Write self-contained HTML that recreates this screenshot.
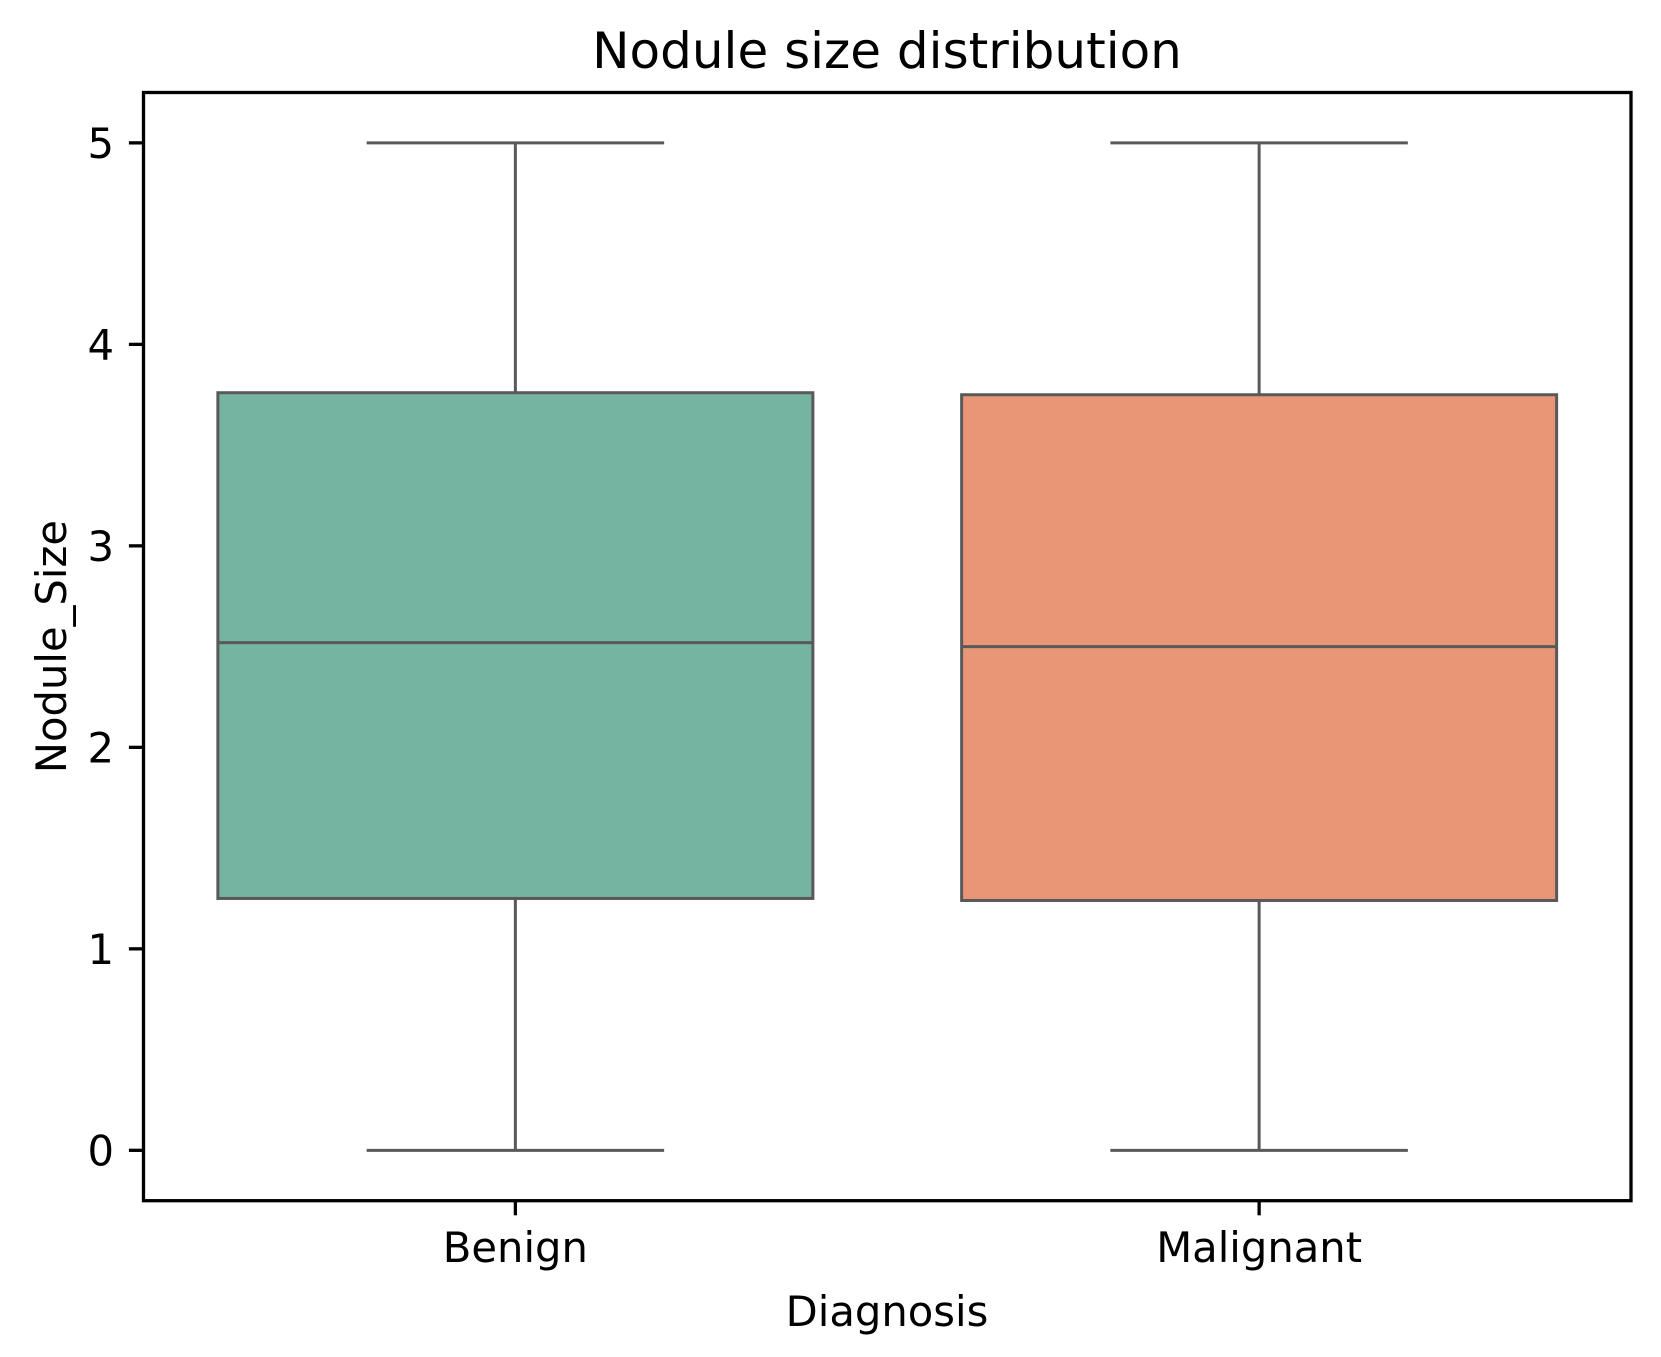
<!DOCTYPE html>
<html><head><meta charset="utf-8"><style>
html,body{margin:0;padding:0;background:#fff;}
svg{display:block;}
text{font-family:"DejaVu Sans","Liberation Sans",sans-serif;fill:#000;}
</style></head><body>
<svg id="chart" width="1661" height="1357" viewBox="0 0 1661 1357" xmlns="http://www.w3.org/2000/svg">
<rect width="1661" height="1357" fill="#fff"/>
<text x="887" y="68" font-size="50" text-anchor="middle">Nodule size distribution</text>
<g id="plot"></g>
<rect x="143.5" y="92.5" width="1487.5" height="1108.2" fill="none" stroke="#000" stroke-width="3.3"/>
<text x="887" y="1326" font-size="41.7" text-anchor="middle">Diagnosis</text>
<text transform="translate(66,646.6) rotate(-90)" font-size="41.7" text-anchor="middle">Nodule_Size</text>
</svg>
<script>
const categories = ["Benign", "Malignant"];
const mins = [0, 0];
const q1s = [1.25, 1.24];
const medians = [2.52, 2.50];
const q3s = [3.76, 3.75];
const maxs = [5, 5];
const yTicks = [0, 1, 2, 3, 4, 5];
const colors = ["#74b4a0", "#e89675"];

const L = 143.5, R = 1631, T = 92.5, B = 1200.7;
const yMin = -0.25, yMax = 5.25;
const y = v => B - (v - yMin) / (yMax - yMin) * (B - T);
const xStep = (R - L) / categories.length;
const x = i => L + xStep * (i + 0.5);
const NS = "http://www.w3.org/2000/svg";
const svg = document.getElementById('chart');
const plot = document.getElementById('plot');
function mk(tag, attrs, parent) {
  const e = document.createElementNS(NS, tag);
  for (const k in attrs) e.setAttribute(k, attrs[k]);
  parent.appendChild(e);
  return e;
}
const lc = "#595959", lw = 3;
categories.forEach((c, i) => {
  const cx = x(i), bw = xStep * 0.8, cw = bw / 2;
  const g = mk('g', {}, plot);
  
  
  const w1 = mk('line', {x1: cx, x2: cx, y1: y(q3s[i]), y2: y(maxs[i]), stroke: lc, 'stroke-width': lw}, g);
  
  
  const w2 = mk('line', {x1: cx, x2: cx, y1: y(q1s[i]), y2: y(mins[i]), stroke: lc, 'stroke-width': lw}, g);
  
  
  const c1 = mk('line', {x1: cx - cw/2, x2: cx + cw/2, y1: y(maxs[i]), y2: y(maxs[i]), stroke: lc, 'stroke-width': lw}, g);
  
  
  const c2 = mk('line', {x1: cx - cw/2, x2: cx + cw/2, y1: y(mins[i]), y2: y(mins[i]), stroke: lc, 'stroke-width': lw}, g);
  
  
  const r = mk('rect', {x: cx - bw/2, y: y(q3s[i]), width: bw, height: y(q1s[i]) - y(q3s[i]), fill: colors[i], stroke: lc, 'stroke-width': lw}, g);
  
  
  const m = mk('line', {x1: cx - bw/2, x2: cx + bw/2, y1: y(medians[i]), y2: y(medians[i]), stroke: lc, 'stroke-width': lw}, g);
  
  
  const t = mk('line', {x1: cx, x2: cx, y1: B, y2: B + 14.6, stroke: '#000', 'stroke-width': 3.3}, svg);
  
  
  const lb = mk('text', {x: cx, y: 1262, 'font-size': 41.7, 'text-anchor': 'middle'}, svg);
  lb.textContent = c;
  
  
});
yTicks.forEach(v => {
  const t = mk('line', {x1: L - 14.6, x2: L, y1: y(v), y2: y(v), stroke: '#000', 'stroke-width': 3.3}, svg);
  
  
  const lb = mk('text', {x: 114, y: y(v) + 15, 'font-size': 41.7, 'text-anchor': 'end'}, svg);
  lb.textContent = String(v);
  
  
});
</script>
</body></html>
